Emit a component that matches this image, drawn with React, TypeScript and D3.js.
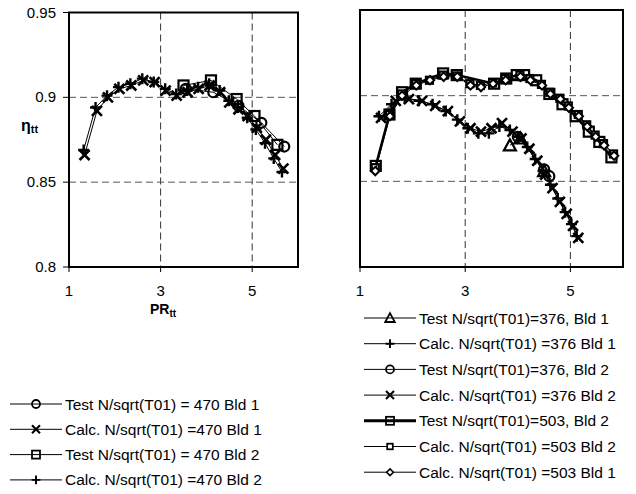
import React from 'react';
import * as d3 from 'd3';

// ---- tick labels ----
const xTicks = [1, 3, 5];
const yTicks = [0.8, 0.85, 0.9, 0.95];
const yTickLabels = ['0.8', '0.85', '0.9', '0.95'];

// ---- left panel: N/sqrt(T01) = 470 ----
const test470Bld1X = [3.55, 4.15, 4.7, 5.2, 5.7];
const test470Bld1Y = [0.905, 0.903, 0.895, 0.885, 0.871];
const calc470Bld1X = [1.34, 1.61, 1.85, 2.1, 2.36, 2.62, 2.87, 3.11, 3.35, 3.59, 3.83, 4.07, 4.3, 4.5, 4.7, 4.9, 5.1, 5.3, 5.5, 5.68];
const calc470Bld1Y = [0.866, 0.892, 0.9, 0.905, 0.907, 0.91, 0.909, 0.904, 0.901, 0.903, 0.905, 0.907, 0.903, 0.897, 0.893, 0.889, 0.882, 0.875, 0.866, 0.858];
const test470Bld2X = [3.5, 4.1, 4.66, 5.05, 5.55];
const test470Bld2Y = [0.907, 0.91, 0.899, 0.889, 0.872];
const calc470Bld2X = [1.32, 1.58, 1.83, 2.08, 2.34, 2.6, 2.85, 3.1, 3.34, 3.58, 3.82, 4.06, 4.29, 4.49, 4.69, 4.89, 5.08, 5.28, 5.47, 5.65];
const calc470Bld2Y = [0.869, 0.894, 0.901, 0.906, 0.908, 0.911, 0.909, 0.905, 0.902, 0.904, 0.906, 0.908, 0.904, 0.898, 0.894, 0.888, 0.881, 0.873, 0.864, 0.856];

// ---- right panel: 376 and 503 ----
const test376Bld1X = [3.85, 4.05, 4.5];
const test376Bld1Y = [0.871, 0.875, 0.856];
const calc376Bld1X = [1.36, 1.6, 1.85, 2.12, 2.38, 2.63, 2.85, 3.05, 3.25, 3.45, 3.65, 3.85, 4.02, 4.18, 4.33, 4.48, 4.62, 4.76, 4.9, 5.02, 5.12];
const calc376Bld1Y = [0.888, 0.895, 0.899, 0.897, 0.895, 0.891, 0.886, 0.881, 0.878, 0.878, 0.882, 0.88, 0.876, 0.87, 0.863, 0.856, 0.848, 0.84, 0.832, 0.825, 0.818];
const test376Bld2X = [4.0, 4.5, 4.6];
const test376Bld2Y = [0.876, 0.857, 0.853];
const calc376Bld2X = [1.4, 1.68, 1.93, 2.18, 2.43, 2.67, 2.9, 3.1, 3.3, 3.5, 3.7, 3.9, 4.07, 4.22, 4.37, 4.52, 4.66, 4.8, 4.93, 5.05, 5.15];
const calc376Bld2Y = [0.887, 0.897, 0.898, 0.897, 0.894, 0.891, 0.885, 0.881, 0.879, 0.881, 0.884, 0.879, 0.875, 0.869, 0.862, 0.854, 0.846, 0.838, 0.831, 0.824, 0.817];
const test503Bld2X = [1.3, 1.56, 1.8, 2.06, 2.58, 2.84, 3.55, 3.78, 3.98, 4.12, 4.35, 4.6, 4.85, 5.1, 5.35, 5.55, 5.78];
const test503Bld2Y = [0.859, 0.889, 0.902, 0.907, 0.913, 0.912, 0.907, 0.91, 0.912, 0.912, 0.909, 0.901, 0.895, 0.888, 0.879, 0.873, 0.864];
const calc503Bld2X = [1.29, 1.56, 1.79, 2.06, 2.32, 2.58, 2.84, 3.09, 3.29, 3.52, 3.76, 4.04, 4.23, 4.45, 4.61, 4.8, 4.96, 5.15, 5.31, 5.47, 5.63, 5.82];
const calc503Bld2Y = [0.858, 0.889, 0.901, 0.907, 0.909, 0.912, 0.9115, 0.907, 0.906, 0.9075, 0.91, 0.912, 0.91, 0.9066, 0.902, 0.8985, 0.894, 0.889, 0.883, 0.877, 0.872, 0.866];
const calc503Bld1X = [1.29, 1.57, 1.8, 2.07, 2.33, 2.59, 2.85, 3.1, 3.3, 3.53, 3.77, 4.05, 4.24, 4.46, 4.62, 4.81, 4.97, 5.16, 5.32, 5.48, 5.64, 5.83];
const calc503Bld1Y = [0.856, 0.888, 0.9, 0.906, 0.909, 0.911, 0.911, 0.906, 0.905, 0.907, 0.909, 0.911, 0.909, 0.906, 0.901, 0.898, 0.893, 0.888, 0.882, 0.876, 0.871, 0.865];

type MarkerKind = 'circle' | 'square' | 'cross' | 'plus' | 'triangle' | 'smallSquare' | 'diamond';

interface Series {
  label: string;
  xs: number[];
  ys: number[];
  marker: MarkerKind;
  lineWidth: number;
}

const leftSeries: Series[] = [
  { label: 'Test N/sqrt(T01) = 470 Bld 1', xs: test470Bld1X, ys: test470Bld1Y, marker: 'circle', lineWidth: 1 },
  { label: 'Calc. N/sqrt(T01) =470 Bld 1', xs: calc470Bld1X, ys: calc470Bld1Y, marker: 'cross', lineWidth: 1 },
  { label: 'Test N/sqrt(T01) = 470 Bld 2', xs: test470Bld2X, ys: test470Bld2Y, marker: 'square', lineWidth: 1 },
  { label: 'Calc. N/sqrt(T01) =470 Bld 2', xs: calc470Bld2X, ys: calc470Bld2Y, marker: 'plus', lineWidth: 1 },
];

const rightSeries: Series[] = [
  { label: 'Test N/sqrt(T01)=376, Bld 1', xs: test376Bld1X, ys: test376Bld1Y, marker: 'triangle', lineWidth: 1 },
  { label: 'Calc. N/sqrt(T01) =376 Bld 1', xs: calc376Bld1X, ys: calc376Bld1Y, marker: 'plus', lineWidth: 1 },
  { label: 'Test N/sqrt(T01)=376, Bld 2', xs: test376Bld2X, ys: test376Bld2Y, marker: 'circle', lineWidth: 1 },
  { label: 'Calc. N/sqrt(T01) =376 Bld 2', xs: calc376Bld2X, ys: calc376Bld2Y, marker: 'cross', lineWidth: 1 },
  { label: 'Test N/sqrt(T01)=503, Bld 2', xs: test503Bld2X, ys: test503Bld2Y, marker: 'square', lineWidth: 2.5 },
  { label: 'Calc. N/sqrt(T01) =503 Bld 2', xs: calc503Bld2X, ys: calc503Bld2Y, marker: 'smallSquare', lineWidth: 1 },
  { label: 'Calc. N/sqrt(T01) =503 Bld 1', xs: calc503Bld1X, ys: calc503Bld1Y, marker: 'diamond', lineWidth: 1 },
];

const FONT = '"Liberation Sans", Arial, sans-serif';

const Marker: React.FC<{ kind: MarkerKind; x: number; y: number; scale?: number }> = ({ kind, x, y, scale = 1 }) => {
  const t = `translate(${x},${y}) scale(${scale})`;
  switch (kind) {
    case 'circle':
      return <circle transform={t} r={5} fill="none" stroke="#000" strokeWidth={2.2} />;
    case 'square':
      return <rect transform={t} x={-5} y={-5} width={10} height={10} fill="none" stroke="#000" strokeWidth={2.2} />;
    case 'smallSquare':
      return <rect transform={t} x={-3.5} y={-3.5} width={7} height={7} fill="#fff" stroke="#000" strokeWidth={2.2} />;
    case 'cross':
      return <path transform={t} d="M-5,-5L5,5M-5,5L5,-5" stroke="#000" strokeWidth={2.6} />;
    case 'plus':
      return <path transform={t} d="M-5.5,0L5.5,0M0,-5.5L0,5.5" stroke="#000" strokeWidth={2.4} />;
    case 'triangle':
      return <path transform={t} d="M0,-6L6,5L-6,5Z" fill="none" stroke="#000" strokeWidth={2.2} />;
    case 'diamond':
      return <path transform={t} d="M0,-4.2L4.2,0L0,4.2L-4.2,0Z" fill="#fff" stroke="#000" strokeWidth={2} />;
  }
  return null;
};

interface PanelProps {
  left: number;
  right: number;
  top: number;
  bottom: number;
  series: Series[];
  showY: boolean;
}

const Panel: React.FC<PanelProps> = ({ left, right, top, bottom, series, showY }) => {
  const x = d3.scaleLinear().domain([1, 6]).range([left, right]);
  const y = d3.scaleLinear().domain([0.8, 0.95]).range([bottom, top]);
  const line = d3.line<[number, number]>().x((d) => x(d[0])).y((d) => y(d[1]));

  return (
    <g>
      {/* grid */}
      {[3, 5].map((v) => (
        <line key={`gx${v}`} x1={x(v)} x2={x(v)} y1={top} y2={bottom} stroke="#333" strokeDasharray="7,4" />
      ))}
      {[0.85, 0.9].map((v) => (
        <line key={`gy${v}`} x1={left} x2={right} y1={y(v)} y2={y(v)} stroke="#555" strokeDasharray="7,4" />
      ))}
      {/* series */}
      {series.map((s, i) => {
        const pts = s.xs.map((v, j) => [v, s.ys[j]] as [number, number]);
        return (
          <g key={i}>
            <path d={line(pts) ?? ''} fill="none" stroke="#000" strokeWidth={s.lineWidth} />
            {pts.map((p, j) => (
              <Marker key={j} kind={s.marker} x={x(p[0])} y={y(p[1])} />
            ))}
          </g>
        );
      })}
      {/* frame */}
      <rect x={left} y={top} width={right - left} height={bottom - top} fill="none" stroke="#000" strokeWidth={2} />
      {/* x axis ticks */}
      {xTicks.map((v) => (
        <g key={`xt${v}`}>
          <line x1={x(v)} x2={x(v)} y1={bottom} y2={bottom + 5} stroke="#000" />
          <text x={x(v)} y={296} textAnchor="middle" fontSize={15} fontFamily={FONT}>
            {v}
          </text>
        </g>
      ))}
      {showY &&
        yTicks.map((v, i) => (
          <g key={`yt${v}`}>
            <line x1={left - 6} x2={left} y1={y(v)} y2={y(v)} stroke="#000" />
            <text x={left - 13} y={y(v) + 5} textAnchor="end" fontSize={15} fontFamily={FONT}>
              {yTickLabels[i]}
            </text>
          </g>
        ))}
    </g>
  );
};

const Legend: React.FC<{ series: Series[]; x0: number; y0: number; step: number }> = ({ series, x0, y0, step }) => (
  <g>
    {series.map((s, i) => {
      const cy = y0 + i * step;
      return (
        <g key={i}>
          <line x1={x0} x2={x0 + 52} y1={cy} y2={cy} stroke="#000" strokeWidth={s.lineWidth === 1 ? 1 : 3} />
          <Marker kind={s.marker} x={x0 + 26} y={cy} scale={0.8} />
          <text x={x0 + 55} y={cy + 5.5} fontSize={15.5} fontFamily={FONT}>
            {s.label}
          </text>
        </g>
      );
    })}
  </g>
);

export default function App() {
  return (
    <svg width={636} height={494} style={{ position: 'absolute', left: 0, top: 0, background: '#fff' }}>
      <rect width={636} height={494} fill="#fff" />
      <Panel left={69} right={298} top={12.5} bottom={267} series={leftSeries} showY />
      <Panel left={360} right={623} top={10} bottom={267} series={rightSeries} showY={false} />
      {/* axis titles */}
      <text x={21} y={131} fontFamily={FONT} fontWeight="bold" fontSize={16}>
        η<tspan fontSize={11} dy={2}>tt</tspan>
      </text>
      <text x={150} y={314} fontFamily={FONT} fontWeight="bold" fontSize={14}>
        PR<tspan fontSize={10} dy={3}>tt</tspan>
      </text>
      <Legend series={leftSeries} x0={10} y0={404} step={25.3} />
      <Legend series={rightSeries} x0={364} y0={318} step={25.7} />
    </svg>
  );
}
